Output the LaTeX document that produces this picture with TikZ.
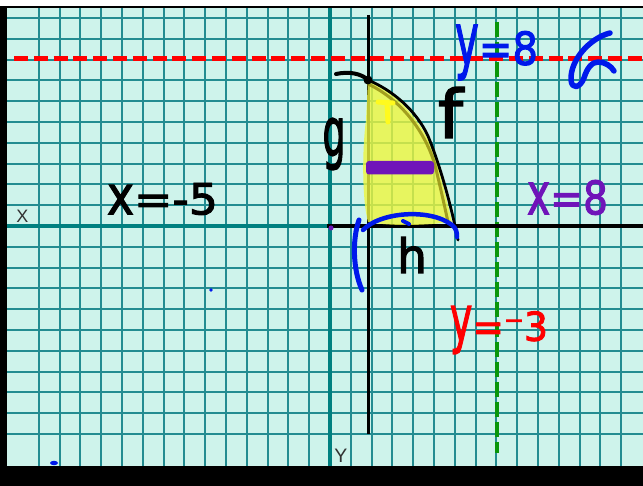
\documentclass[tikz,border=0pt]{standalone}
\usepackage{fontspec}
\usepackage{graphicx}
\setmainfont{DejaVu Sans}
\newfontfamily\labfont{Liberation Sans}
\newfontfamily\handfont[FakeBold=2.2]{DejaVu Sans}
\definecolor{mint}{RGB}{206,243,235}
\definecolor{gridteal}{RGB}{35,140,145}
\definecolor{axisteal}{RGB}{0,128,128}
\definecolor{penblue}{RGB}{0,25,235}
\definecolor{penpurple}{RGB}{112,20,185}
\definecolor{penred}{RGB}{255,0,0}
\definecolor{pengreen}{RGB}{10,150,10}
\definecolor{hiyellow}{RGB}{238,246,60}
\definecolor{brightyellow}{RGB}{255,250,30}
\definecolor{olivepen}{RGB}{150,145,20}
\definecolor{labgray}{RGB}{50,50,50}
\begin{document}
\begin{tikzpicture}[x=1pt,y=-1pt,
  pen/.style={line cap=round,line join=round},
  hand/.style={inner sep=0pt,anchor=center,font=\handfont},
  axlabel/.style={inner sep=0pt,anchor=center,text=labgray}]
\useasboundingbox (0,0) rectangle (643,486);
\fill[white] (0,0) rectangle (643,486);
\fill[mint] (7,7) rectangle (643,466);
% grid
\foreach \k in {-14,...,14}
  \draw[gridteal,line width=2pt] ({round(330+20.8*\k)},8) -- ({round(330+20.8*\k)},466);
\foreach \k in {-10,...,10}
  \draw[gridteal,line width=2pt] (7,{round(226+20.8*\k)}) -- (643,{round(226+20.8*\k)});
\draw[axisteal,line width=4.5pt] (330,8) -- (330,466);
\draw[axisteal,line width=4.5pt] (7,226) -- (643,226);
% frame
\fill[black] (0,6) rectangle (7.3,486);
\fill[black] (0,466) rectangle (643,486);
\draw[black,line width=1.6pt] (0,7) -- (643,7);
% axis labels
\node[axlabel,font=\labfont\fontsize{18}{18}\selectfont] (xlab) at (22.5,216.5) {X};
\node[axlabel,font=\labfont\fontsize{19.5}{19.5}\selectfont] (ylab) at (341,456) {Y};
% dashed lines
\draw[penred,line width=5pt,dash pattern=on 14pt off 5.8pt] (14,58.5) -- (643,58.5);
\draw[pengreen,line width=4pt,dash pattern=on 15pt off 5pt] (497,22) -- (497,453);
% hand-drawn axes
\draw[line width=3pt] (368,15) -- (368,434);
\draw[line width=3.2pt] (327,226) -- (643,226);
% shaded region
\fill[hiyellow,opacity=0.8] (368,80) .. controls (400,94) and (428,128) .. (438,165)
  .. controls (444,190) and (449,208) .. (452,222)
  .. controls (420,226) and (390,226) .. (368,222)
  .. controls (362,200) and (362,150) .. (366,120) -- cycle;
\draw[olivepen,line width=3pt,opacity=0.85,pen] (368,84) .. controls (398,98) and (424,128) .. (435,165)
  .. controls (441,190) and (445,208) .. (448,222);
\draw[brightyellow,line width=5pt,pen] (378,102) -- (393,103) (387,103) -- (388,122);
% curve f and top hook
\draw[line width=2.8pt,pen] (368,80) .. controls (392,90) and (416,110) .. (428,136)
  .. controls (440,165) and (451,205) .. (458,240);
\draw[line width=4pt,pen] (336,74) .. controls (350,71) and (362,74) .. (368,80);
\fill (368,80) circle (4.5);
% slice
\fill[penpurple,rounded corners=3pt] (366,161) rectangle (434,174.5);
% blue marks
\draw[penblue,line width=5pt,pen] (359,220) .. controls (352,240) and (353,270) .. (362,290);
\draw[penblue,line width=4.5pt,pen] (363,230) .. controls (380,212) and (430,208) .. (452,225)
  .. controls (456,228) and (457,232) .. (457,237);
\draw[penblue,line width=4pt,pen] (403,221) -- (409,224);
\draw[penblue,line width=5.5pt,pen] (610,33) .. controls (590,38) and (570,60) .. (571,80)
  .. controls (572,90) and (580,88) .. (584,78) .. controls (587,68) and (592,62) .. (598,62)
  .. controls (605,62) and (611,66) .. (614,71);
% dots
\fill[penpurple] (331,228) circle (2.5);
\fill[penblue] (211,290) circle (1.8);
\fill[penblue] (54,463) ellipse (4 and 2.2);
% handwritten labels
\node[hand] (glab) at (334,144) {\resizebox*{23pt}{52pt}{g}};
\node[hand] (flab) at (450.5,112.5) {\resizebox*{25pt}{51pt}{f}};
\node[hand] (hlab) at (412,255) {\resizebox*{30pt}{36pt}{h}};
\node[hand] (xm5) at (162.5,199) {\resizebox*{111pt}{32pt}{\scalebox{1}[1.25]{x}=-5}};
\node[hand,text=penpurple] (x8) at (567.5,197.5) {\resizebox*{81pt}{35pt}{\scalebox{1}[1.25]{x}=8}};
\node[hand,text=penblue] (y8) at (496.5,52.5) {\resizebox*{83pt}{55pt}{\scalebox{1}[1.6]{y}=8}};
\node[hand,text=penred] (ym3) at (499,330) {\resizebox*{98pt}{48pt}{\scalebox{1}[1.6]{y}=⁻3}};
\end{tikzpicture}
\end{document}
